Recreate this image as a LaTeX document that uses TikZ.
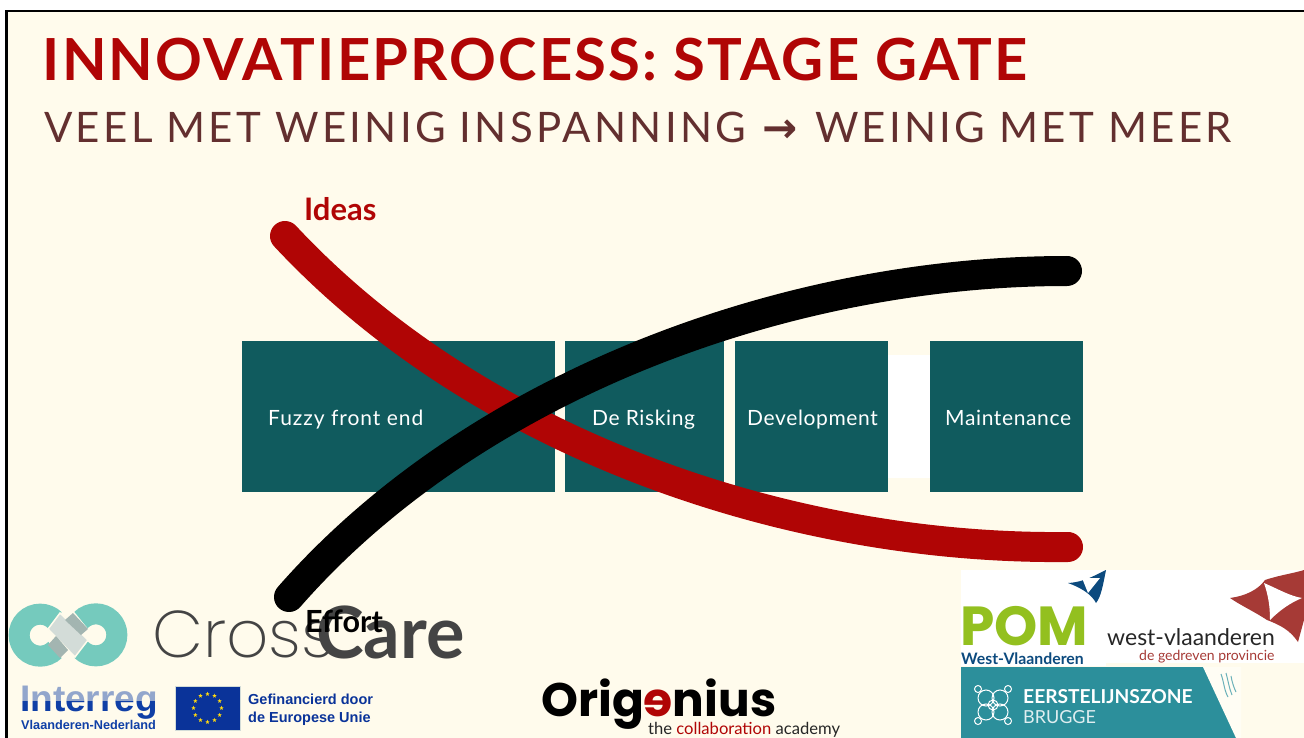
\documentclass[tikz,border=0pt]{standalone}
\usepackage{fontspec}
\usetikzlibrary{shapes.geometric}
\setmainfont{Lato}
\newfontfamily\titlef[LetterSpace=3.7]{Lato}
\newfontfamily\subf[LetterSpace=7.8]{Lato}
\newfontfamily\boxf[LetterSpace=3]{Lato}
\newfontfamily\fuzf[LetterSpace=4.6]{Lato}
\newfontfamily\arrf{DejaVu Sans}
\newfontfamily\popf{Poppins}
\newfontfamily\popl[UprightFont=* ExtraLight]{Poppins}
\newfontfamily\libf{Liberation Sans}
\definecolor{cream}{HTML}{FFFBEC}
\definecolor{titlered}{HTML}{B00505}
\definecolor{subbrown}{HTML}{632F2F}
\definecolor{boxteal}{HTML}{105B5E}
\definecolor{ringteal}{HTML}{75CABD}
\definecolor{ccgrey}{HTML}{444444}
\definecolor{lightgrey}{HTML}{D3DCD8}
\definecolor{darkgrey}{HTML}{A3B5B1}
\definecolor{ireg}{HTML}{0F3FA6}
\definecolor{eublue}{HTML}{0A3399}
\definecolor{eustar}{HTML}{FFD90F}
\definecolor{pomgreen}{HTML}{93C01F}
\definecolor{pomblue}{HTML}{0C4A7E}
\definecolor{wvred}{HTML}{A63A36}
\definecolor{eerst}{HTML}{2C8F9B}
\tikzset{
  stage/.style={fill=boxteal,inner sep=0pt,minimum height=151pt,anchor=north west},
  stagetext/.style={text=white,font=\boxf\fontsize{21}{25}\selectfont,inner sep=0pt,anchor=base west},
  lbl/.style={inner sep=0pt,anchor=base west},
  curve/.style={line width=30pt,line cap=round},
  eustarn/.style={star,star points=5,star point ratio=2.4,fill=eustar,inner sep=0pt,minimum size=4.5pt},
  logoline/.style={draw=white,line width=1pt,fill=none}
}
\begin{document}
\begin{tikzpicture}[x=1pt,y=-1pt]
\useasboundingbox (0,0) rectangle (1304,738);
\fill[white] (0,0) rectangle (1304,738);
\fill[cream] (6.5,11) rectangle (1304,738);
\draw[black,line width=2.2pt] (6.5,738) -- (6.5,11) -- (1304,11);
% titles
\node[lbl,text=titlered,font=\titlef\bfseries\fontsize{58}{60}\selectfont] (title) at (42.5,80.5) {INNOVATIEPROCESS: STAGE GATE};
\node[lbl,text=subbrown,font=\subf\fontsize{42}{46}\selectfont] (subtitle) at (44,143) {VEEL MET WEINIG INSPANNING\hspace{3pt} {\arrf\bfseries\fontsize{42}{46}\selectfont →}\hspace{3pt} WEINIG MET MEER};
% stages
\fill[white] (888,355) rectangle (930,478);
\node[stage,minimum width=313pt] (fuzzy) at (242,341) {};
\node[stage,minimum width=159pt] (risk) at (565,341) {};
\node[stage,minimum width=153pt] (dev) at (735,341) {};
\node[stage,minimum width=153pt] (maint) at (930,341) {};
\node[stagetext,font=\fuzf\fontsize{21}{25}\selectfont] (t1) at (268,425) {Fuzzy front end};
\node[stagetext] (t2) at (592,425) {De Risking};
\node[stagetext] (t3) at (747,425) {Development};
\node[stagetext] (t4) at (945,425) {Maintenance};
% curves
\coordinate (rs) at (285,236);
\coordinate (re) at (1068,547);
\coordinate (bs) at (289,597);
\coordinate (be) at (1067,271);
\draw[curve,titlered] (rs) .. controls (480,445) and (790,550) .. (re);
\draw[curve,black] (bs) .. controls (470,390) and (780,271) .. (be);
\node[lbl,text=titlered,font=\bfseries\fontsize{31}{33}\selectfont] (ideas) at (304,221) {Ideas};
% crosscare
\draw[ringteal,line width=21pt] (55,650) arc[start angle=45,end angle=315,radius=21];
\draw[ringteal,line width=21pt] (81,620) arc[start angle=225,end angle=495,radius=21];
\fill[lightgrey,draw=cream,line width=1.5pt] (48,629) -- (60,613) -- (88,640) -- (75,657) -- cycle;
\fill[darkgrey] (73,613) -- (88,629) -- (81,635) -- (65,620) -- cycle;
\fill[darkgrey] (56,636) -- (68,650) -- (60,658) -- (48,645) -- cycle;
\node[lbl,text=ccgrey,font=\popl\fontsize{66}{68}\selectfont] (cross) at (152,657) {Cross};
\node[lbl,text=ccgrey,font=\bfseries\fontsize{72}{74}\selectfont] (care) at (316,658) {Care};
\node[lbl,text=black,font=\bfseries\fontsize{30.5}{32}\selectfont] (effort) at (305,632) {Effort};
% interreg
\node[lbl,text=ireg,font=\libf\bfseries\fontsize{37}{38}\selectfont] (interreg) at (20,711) {Interreg};
\fill[cream,opacity=.55] (18,685) rectangle (158,701);
\node[lbl,text=ireg,font=\libf\bfseries\fontsize{12.7}{14}\selectfont] (vl) at (21,729) {Vlaanderen-Nederland};
% EU
\fill[eublue,draw=lightgrey,line width=1pt] (175.5,686) rectangle (240,730);
\foreach \a in {0,30,...,330}
  \node[eustarn] (s\a) at ({207.5+14*cos(\a)},{708+14*sin(\a)}) {};
\node[lbl,text=eublue,font=\libf\bfseries\fontsize{14.5}{16}\selectfont] (g1) at (248,704) {Gefinancierd door};
\node[lbl,text=eublue,font=\libf\bfseries\fontsize{14.5}{16}\selectfont] (g2) at (248,722) {de Europese Unie};
% origenius
\node[lbl,text=black,font=\popf\bfseries\fontsize{47}{49}\selectfont] (orig) at (541,716) {Orig{\color{titlered}\scalebox{-1}[1]{e}}nius};
\node[lbl,text=black!85,font=\fontsize{16.6}{19}\selectfont] (tag) at (648,734) {the {\color{titlered}collaboration} academy};
% POM
\fill[white] (961,570) rectangle (1304,663);
\fill[white] (961,570) rectangle (1106,666);
\node[lbl,text=pomgreen,font=\popf\bfseries\fontsize{55}{57}\selectfont] (pom) at (960,645) {POM};
\node[lbl,text=pomblue,font=\bfseries\fontsize{15.8}{17}\selectfont] (pw) at (961,664) {West-Vlaanderen};
\fill[pomblue] (1068,583) .. controls (1085,582) and (1095,575) .. (1106,570) .. controls (1103,585) and (1101,597) .. (1096,603) .. controls (1092,595) and (1082,588) .. (1068,583) -- cycle;
\fill[white] (1082,578) -- (1100,578) -- (1088,593) -- cycle;
% west-vlaanderen
\fill[wvred] (1230,598) .. controls (1245,596) and (1258,590) .. (1265,580) .. controls (1280,575) and (1295,573) .. (1304,570) -- (1304,620) -- (1298,642) .. controls (1290,630) and (1280,625) .. (1267,620) .. controls (1255,612) and (1240,605) .. (1230,598) -- cycle;
\fill[white] (1264,583) .. controls (1280,590) and (1290,596) .. (1302,598) .. controls (1290,603) and (1280,610) .. (1270,620) .. controls (1270,605) and (1268,595) .. (1264,583) -- cycle;
\node[lbl,text=black!85,font=\fontsize{23}{25}\selectfont] (wv) at (1107,645) {west-vlaanderen};
\node[lbl,text=wvred,font=\fontsize{14}{16}\selectfont] (wv2) at (1139,660.5) {de gedreven provincie};
% Eerstelijnszone
\fill[eerst] (961,667) rectangle (1241,738);
\fill[cream!60!white] (1203,667) -- (1241,667) -- (1241,738) -- (1236,738) -- cycle;
\node[lbl,text=white,font=\bfseries\fontsize{19.2}{21}\selectfont] (ez) at (1023,703) {EERSTELIJNSZONE};
\node[lbl,text=white!85!eerst,font=\fontsize{18}{20}\selectfont] (br) at (1023,723) {BRUGGE};
\foreach \p in {{-7,-7},{7,-7},{-7,7},{7,7}}
  \draw[logoline] (993,705) ++(\p) circle[radius=8];
\foreach \p in {{-15,-16},{15,-16},{-15,16},{15,16}}
  \draw[logoline] (993,705) ++(\p) circle[radius=3.5];
\draw[logoline] (993,705) circle[radius=5];
\draw[eerst!70,line width=1pt] (1221,674) .. controls (1224,682) and (1224,690) .. (1228,697) (1226,673) .. controls (1228,680) and (1229,688) .. (1232,695) (1231,676) .. controls (1232,682) and (1234,688) .. (1236,692);
\end{tikzpicture}
\end{document}
